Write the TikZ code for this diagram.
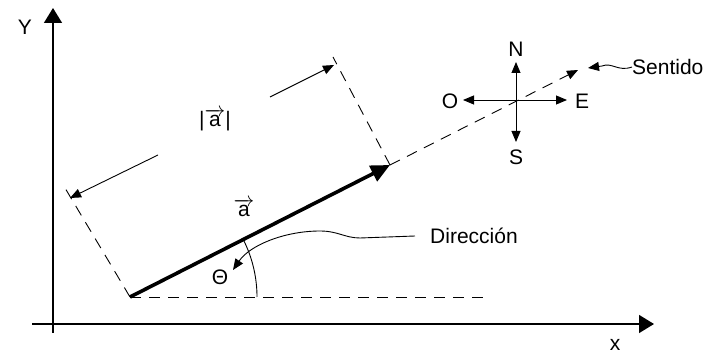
\documentclass[tikz,border=0pt]{standalone}
\usepackage{fontspec}
\setmainfont{Liberation Sans}
\usetikzlibrary{arrows.meta}
\begin{document}
\begin{tikzpicture}[x=1pt,y=-1pt,
  lbl/.style={font=\fontsize{21}{24}\selectfont, inner sep=0pt},
  axisline/.style={line width=1.4pt, -{Triangle[length=15pt,width=18pt]}},
  fine/.style={line width=0.9pt},
  dsh/.style={line width=0.9pt, dash pattern=on 11pt off 8pt},
  smallhead/.style={-{Triangle[length=11pt,width=9pt]}},
  vecline/.style={line width=3.6pt, -{Triangle[length=19pt,width=17pt]}}
]
\useasboundingbox (0,0) rectangle (718,355);
% points
\coordinate (Ybot) at (53,333);
\coordinate (Ytop) at (53,8);
\coordinate (Xleft) at (32,324);
\coordinate (Xright) at (654,324);
\coordinate (O) at (130,297);
\coordinate (T) at (390,165);
\coordinate (Hend) at (490,297);
\coordinate (Dend) at (578,70);
\coordinate (Pup) at (333,57);
\coordinate (Plow) at (65,188);
\coordinate (U1) at (270,97);
\coordinate (U2) at (334,65);
\coordinate (L1) at (158,155);
\coordinate (L2) at (70,198);
\coordinate (C) at (516,100);
\coordinate (Ntip) at (516,62);
\coordinate (Stip) at (516,142);
\coordinate (Etip) at (567,100);
\coordinate (Otip) at (463,100);
\coordinate (Arc0) at (257,297);
\coordinate (Stp) at (588,68);
\coordinate (Dtip) at (233,270);
% labels
\node[lbl] (ylab) at (25,27) {Y};
\node[lbl] (xlab) at (615,345) {x};
\node[lbl] (nlab) at (516,49) {N};
\node[lbl] (slab) at (516,157) {S};
\node[lbl] (elab) at (582,101) {E};
\node[lbl] (olab) at (450,101) {O};
\node[lbl, anchor=west] (sent) at (632,67) {Sentido};
\node[lbl, anchor=west] (dir) at (430,236) {Dirección};
\node[lbl] (mag) at (215,120) {|$\overrightarrow{\mbox{a}}$|};
\node[lbl] (veca) at (244,208) {$\overrightarrow{\mbox{a}}$};
\node[lbl] (theta) at (220,277) {Θ};
% axes
\draw[axisline] (Ybot) -- (Ytop);
\draw[axisline] (Xleft) -- (Xright);
% dashed construction lines
\draw[dsh] (O) -- (Hend);
\draw[dsh] (T) -- (Pup);
\draw[dsh] (O) -- (Plow);
\draw[dsh, smallhead] (T) -- (Dend);
% dimension arrows
\draw[fine, smallhead] (U1) -- (U2);
\draw[fine, smallhead] (L1) -- (L2);
% vector
\draw[vecline] (O) -- (T);
% angle arc
\draw[fine] (Arc0) arc[start angle=0, end angle=-27, radius=127];
% compass
\draw[fine, smallhead] (C) -- (Ntip);
\draw[fine, smallhead] (C) -- (Stip);
\draw[fine, smallhead] (C) -- (Etip);
\draw[fine, smallhead] (C) -- (Otip);
% leaders
\draw[fine, smallhead] (sent.west) .. controls (618,72) and (612,62) .. (602,66) -- (Stp);
\draw[fine, smallhead] ([xshift=-15pt]dir.west) -- (360,238) .. controls (345,238) and (338,231) .. (320,231) .. controls (285,231) and (250,245) .. (Dtip);
\end{tikzpicture}
\end{document}
